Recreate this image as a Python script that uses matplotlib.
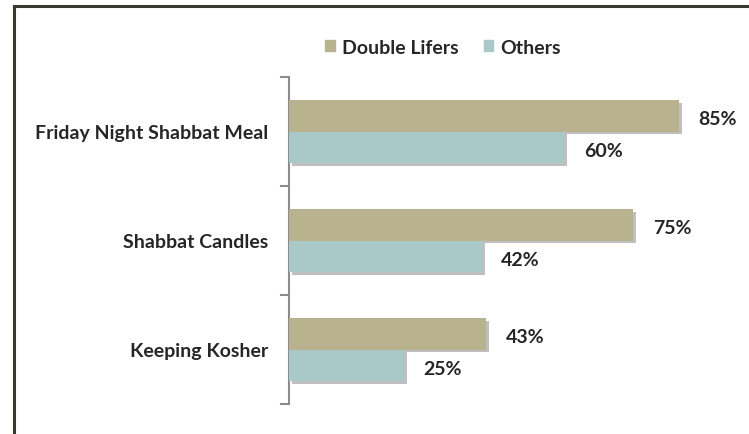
import matplotlib
matplotlib.use("Agg")
import matplotlib.pyplot as plt
import matplotlib.patheffects as pe
from matplotlib.patches import Rectangle
from matplotlib.lines import Line2D
import numpy as np

categories = ["Friday Night Shabbat Meal", "Shabbat Candles", "Keeping Kosher"]
double_lifers = [85, 75, 43]
others = [60, 42, 25]
series_names = ["Double Lifers", "Others"]
colors = ["#B8B28E", "#A9C9C9"]

plt.rcParams['font.family'] = ['Lato', 'DejaVu Sans']
W, H = 749, 435
fig = plt.figure(figsize=(W / 100, H / 100), dpi=100)
fig.patch.set_facecolor("white")

# figure border (top and left visible)
border_col = "#3B3A30"
fig.add_artist(Line2D([14 / W, 1.0], [1 - 7 / H, 1 - 7 / H], color=border_col, lw=2.2, transform=fig.transFigure))
fig.add_artist(Line2D([14 / W, 14 / W], [0, 1 - 7 / H], color=border_col, lw=2.2, transform=fig.transFigure))

ax = fig.add_axes([289 / W, 1 - 405 / H, (748 - 289) / W, (405 - 78) / H])
ax.set_xlim(0, 100)
ax.set_ylim(2.5, -0.5)

y = np.arange(len(categories))
h = 0.29
shadow = [pe.SimplePatchShadow(offset=(2.0, -2.0), shadow_rgbFace="#606060", alpha=0.4), pe.Normal()]
b1 = ax.barh(y - h / 2, double_lifers, height=h, color=colors[0], zorder=3)
b2 = ax.barh(y + h / 2, others, height=h, color=colors[1], zorder=3)
for bars in (b1, b2):
    for b in bars:
        b.set_path_effects(shadow)

txt_col = "#262626"
FS = 14
for yy, v in zip(y - h / 2, double_lifers):
    ax.annotate(f"{v}%", (v, yy), xytext=(14, -2), textcoords="offset points",
                ha="left", va="center", fontsize=FS, fontweight="bold", color=txt_col)
for yy, v in zip(y + h / 2, others):
    ax.annotate(f"{v}%", (v, yy), xytext=(14, -2), textcoords="offset points",
                ha="left", va="center", fontsize=FS, fontweight="bold", color=txt_col)

# axis styling
for s in ["top", "right", "bottom"]:
    ax.spines[s].set_visible(False)
ax.spines["left"].set_color("#8C8C8C")
ax.spines["left"].set_linewidth(1.5)
ax.set_xticks([])
ax.set_yticks(y)
ax.set_yticklabels(categories, fontsize=FS, fontweight="bold", color=txt_col)
ax.tick_params(axis="y", length=0, pad=15)
# category boundary ticks
for b in [-0.5, 0.5, 1.5, 2.5]:
    ax.plot([-1.8, 0], [b, b], color="#8C8C8C", lw=1.5, clip_on=False, zorder=4)

handles = [Rectangle((0, 0), 1, 1, color=c) for c in colors]
leg = fig.legend(handles, series_names, loc="center", bbox_to_anchor=(443 / W, 1 - 48 / H),
                 ncol=2, frameon=False, handlelength=0.5, handleheight=0.5, handletextpad=0.35,
                 columnspacing=1.3, prop={"family": ["Lato", "DejaVu Sans"], "weight": "bold", "size": FS})
for t in leg.get_texts():
    t.set_color(txt_col)

fig.savefig("out.png", dpi=100, facecolor="white")
